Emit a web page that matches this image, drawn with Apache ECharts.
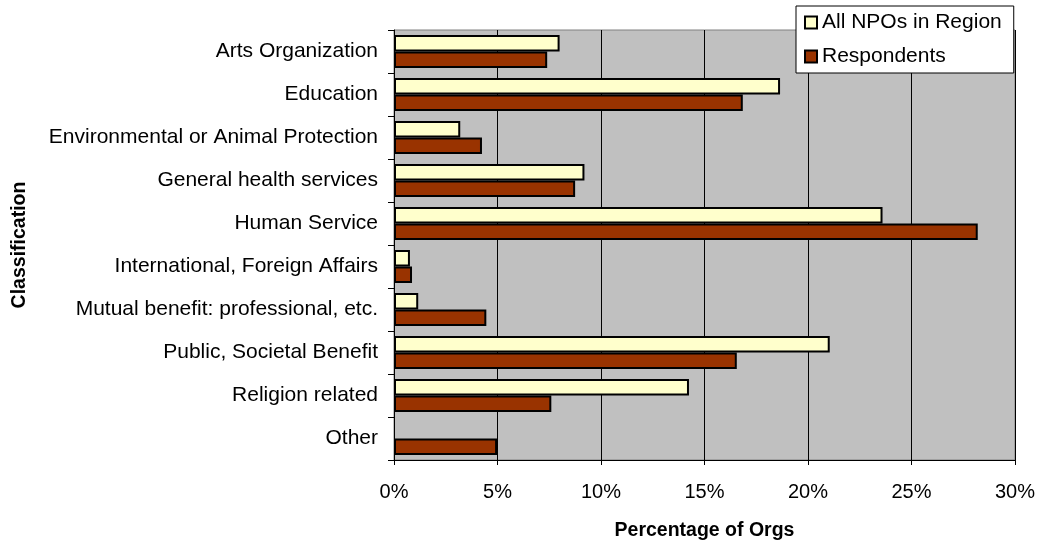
<!DOCTYPE html>
<html>
<head>
<meta charset="utf-8">
<script src="https://cdn.jsdelivr.net/npm/echarts@6/dist/echarts.min.js"></script>
<style>
  html, body { margin: 0; padding: 0; background: #ffffff; }
  #chart { width: 1040px; height: 542px; }
</style>
</head>
<body>
<div id="chart"></div>
<script>
// Share of nonprofit organizations by classification (percent)
const categories = [
  'Arts Organization',
  'Education',
  'Environmental or Animal Protection',
  'General health services',
  'Human Service',
  'International, Foreign Affairs',
  'Mutual benefit: professional, etc.',
  'Public, Societal Benefit',
  'Religion related',
  'Other'
];
const allNpos = [8.0, 18.65, 3.2, 9.2, 23.6, 0.77, 1.17, 21.05, 14.25, 0];
const respondents = [7.4, 16.85, 4.25, 8.75, 28.2, 0.87, 4.46, 16.56, 7.6, 4.98];
const xTicks = [0, 5, 10, 15, 20, 25, 30];

const FONT = 'Liberation Sans, Arial, sans-serif';

// zero-length bars get no outline so they stay invisible
function barData(values) {
  return values.map(v => v === 0 ? { value: v, itemStyle: { borderWidth: 0, opacity: 0 } } : v);
}

const chart = echarts.init(document.getElementById('chart'), null, { renderer: 'canvas' });

chart.setOption({
  animation: false,
  backgroundColor: '#ffffff',
  textStyle: { fontFamily: FONT, color: '#000' },
  grid: {
    left: 394, right: 25, top: 30, bottom: 82,
    outerBoundsMode: 'none',
    containLabel: false,
    show: true,
    backgroundColor: '#c0c0c0',
    borderColor: '#808080',
    borderWidth: 1
  },
  legend: {
    orient: 'vertical',
    left: 796,
    top: 6,
    padding: [6, 12, 6, 8],
    itemGap: 13,
    itemWidth: 12,
    itemHeight: 12,
    icon: 'rect',
    itemStyle: { borderColor: '#000', borderWidth: 2 },
    backgroundColor: '#ffffff',
    borderColor: '#000',
    borderWidth: 1,
    textStyle: { fontFamily: FONT, fontSize: 21, color: '#000' },
    data: ['All NPOs in Region', 'Respondents']
  },
  xAxis: {
    type: 'value',
    min: xTicks[0],
    max: xTicks[xTicks.length - 1],
    interval: 5,
    name: 'Percentage of Orgs',
    nameLocation: 'middle',
    nameGap: 61,
    nameTextStyle: { fontFamily: FONT, fontSize: 19.5, fontWeight: 'bold', color: '#000' },
    axisLine: { show: true, lineStyle: { color: '#000', width: 1 } },
    axisTick: { show: true, length: 5, lineStyle: { color: '#000' } },
    axisLabel: { fontFamily: FONT, fontSize: 20, color: '#000', margin: 22, formatter: '{value}%' },
    splitLine: { show: true, lineStyle: { color: '#000', width: 1 } }
  },
  yAxis: {
    type: 'category',
    inverse: true,
    data: categories,
    name: 'Classification',
    nameLocation: 'middle',
    nameGap: 364,
    nameRotate: 90,
    nameTextStyle: { fontFamily: FONT, fontSize: 19.5, fontWeight: 'bold', color: '#000' },
    axisLine: { show: true, lineStyle: { color: '#000', width: 1 } },
    axisTick: { show: true, length: 6, lineStyle: { color: '#000' } },
    axisLabel: { fontFamily: FONT, fontSize: 21, color: '#000', margin: 16 },
    splitLine: { show: false }
  },
  series: [
    {
      name: 'All NPOs in Region',
      type: 'bar',
      data: barData(allNpos),
      barGap: '0%',
      barCategoryGap: '23%',
      itemStyle: { color: '#ffffcc', borderColor: '#000', borderWidth: 2 }
    },
    {
      name: 'Respondents',
      type: 'bar',
      data: barData(respondents),
      itemStyle: { color: '#993300', borderColor: '#000', borderWidth: 2 }
    }
  ]
});
</script>
</body>
</html>
